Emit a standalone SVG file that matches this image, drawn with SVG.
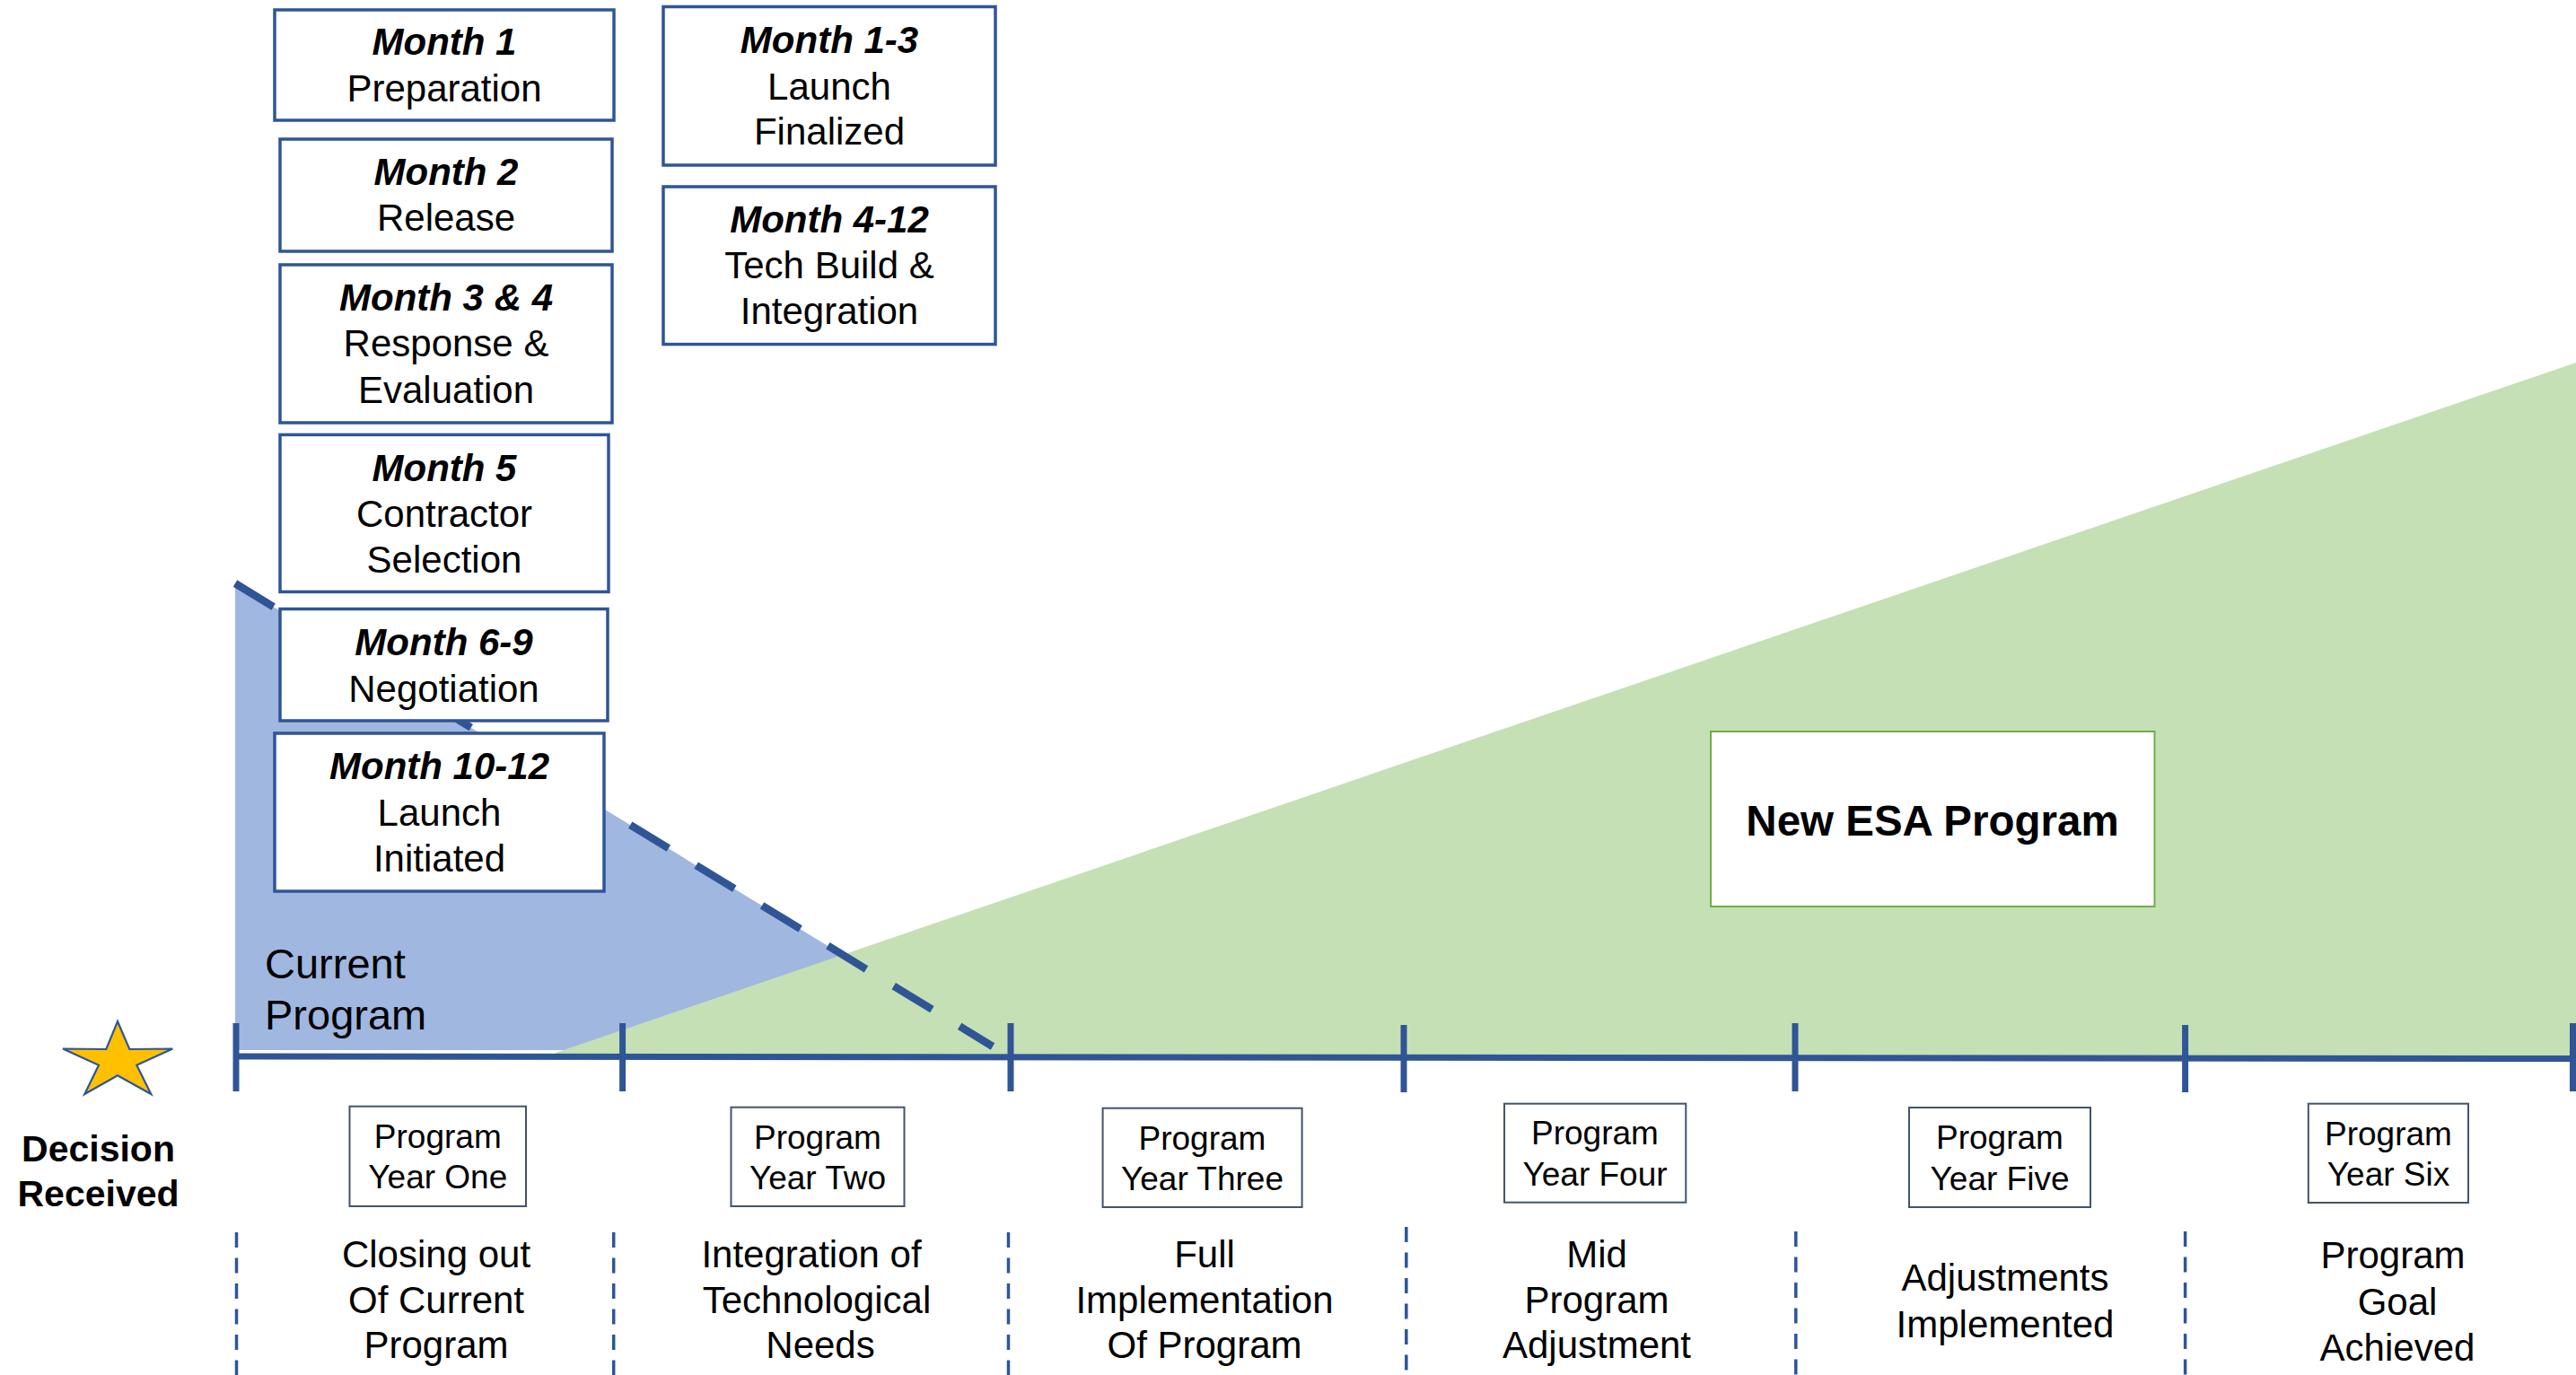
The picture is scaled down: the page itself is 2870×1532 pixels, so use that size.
<svg xmlns="http://www.w3.org/2000/svg" width="2870" height="1532" viewBox="0 0 2870 1532">
  <style>
    text { font-family: "Liberation Sans", Arial, sans-serif; fill: #000; }
    .mbox { fill: #fff; stroke: #2F5597; stroke-width: 3.5; }
    .ybox { fill: #fff; stroke: #44546A; stroke-width: 2; }
    .mt { font-size: 42px; text-anchor: middle; }
    .mh { font-size: 42px; font-weight: bold; font-style: italic; text-anchor: middle; }
    .yt { font-size: 37px; text-anchor: middle; }
    .bt { font-size: 42px; text-anchor: middle; }
    .axis { stroke: #2F5597; stroke-width: 7; fill: none; }
    .sep { stroke: #2F5597; stroke-width: 3.5; stroke-dasharray: 17 11.5; fill: none; }
  </style>

  <!-- area shapes -->
  <g id="areas">
    <polygon id="current-area" points="262,650 1112,1170 262,1170" fill="#A0B7E0"/>
    <polygon id="new-area" points="619,1173 2870,404 2870,1178 619,1178" fill="#C5E0B4"/>
  </g>

  <!-- timeline lines -->
  <g id="connectors">
    <line id="phase-out" x1="262" y1="650" x2="1106" y2="1166" stroke="#2F5597" stroke-width="8.5" stroke-dasharray="50 36"/>
    <line class="axis" x1="262" y1="1177" x2="2870" y2="1179.5"/>
    <line class="axis" x1="263" y1="1140" x2="263" y2="1216"/>
    <line class="axis" x1="693.6" y1="1140" x2="693.6" y2="1216"/>
    <line class="axis" x1="1126" y1="1140" x2="1126" y2="1216"/>
    <line class="axis" x1="1564" y1="1142" x2="1564" y2="1217"/>
    <line class="axis" x1="2000" y1="1140" x2="2000" y2="1216"/>
    <line class="axis" x1="2434.6" y1="1142" x2="2434.6" y2="1217"/>
    <line class="axis" x1="2866.5" y1="1140" x2="2866.5" y2="1216"/>
    <line class="sep" x1="263.5" y1="1373" x2="263.5" y2="1532"/>
    <line class="sep" x1="683.7" y1="1373" x2="683.7" y2="1532"/>
    <line class="sep" x1="1123.5" y1="1373" x2="1123.5" y2="1532"/>
    <line class="sep" x1="1566.8" y1="1367" x2="1566.8" y2="1532"/>
    <line class="sep" x1="2000.8" y1="1372" x2="2000.8" y2="1532"/>
    <line class="sep" x1="2434.6" y1="1372" x2="2434.6" y2="1532"/>
  </g>

  <!-- monthly steps -->
  <g id="month-1">
    <rect class="mbox" x="306" y="11" width="378" height="123"/>
    <text class="mh" x="495" y="61">Month 1</text>
    <text class="mt" x="495" y="112.7">Preparation</text>
  </g>
  <g id="month-2">
    <rect class="mbox" x="312" y="155" width="370" height="125"/>
    <text class="mh" x="497" y="206.4">Month 2</text>
    <text class="mt" x="497" y="257">Release</text>
  </g>
  <g id="month-3-4">
    <rect class="mbox" x="312" y="295" width="370" height="176"/>
    <text class="mh" x="497" y="346">Month 3 &amp; 4</text>
    <text class="mt" x="497" y="396.6">Response &amp;</text>
    <text class="mt" x="497" y="448.8">Evaluation</text>
  </g>
  <g id="month-5">
    <rect class="mbox" x="312" y="484.4" width="366" height="175"/>
    <text class="mh" x="495" y="535.8">Month 5</text>
    <text class="mt" x="495" y="587.2">Contractor</text>
    <text class="mt" x="495" y="638.3">Selection</text>
  </g>
  <g id="month-6-9">
    <rect class="mbox" x="312" y="678.5" width="365" height="124.5"/>
    <text class="mh" x="494.5" y="730">Month 6-9</text>
    <text class="mt" x="494.5" y="781.8">Negotiation</text>
  </g>
  <g id="month-10-12">
    <rect class="mbox" x="306" y="817" width="367" height="176"/>
    <text class="mh" x="489.5" y="868">Month 10-12</text>
    <text class="mt" x="489.5" y="919.5">Launch</text>
    <text class="mt" x="489.5" y="970.5">Initiated</text>
  </g>
  <g id="month-1-3">
    <rect class="mbox" x="739" y="7.5" width="370" height="176.5"/>
    <text class="mh" x="924" y="59.3">Month 1-3</text>
    <text class="mt" x="924" y="110.7">Launch</text>
    <text class="mt" x="924" y="161.3">Finalized</text>
  </g>
  <g id="month-4-12">
    <rect class="mbox" x="739" y="208" width="370" height="175.6"/>
    <text class="mh" x="924" y="259">Month 4-12</text>
    <text class="mt" x="924" y="310.4">Tech Build &amp;</text>
    <text class="mt" x="924" y="361">Integration</text>
  </g>

  <!-- area labels -->
  <g id="current-program">
    <text x="295" y="1090" font-size="47">Current</text>
    <text x="295" y="1147" font-size="47">Program</text>
  </g>
  <g id="new-esa-program">
    <rect x="1906" y="815" width="494.5" height="195" fill="#fff" stroke="#70AD47" stroke-width="2"/>
    <text x="2153" y="931" font-size="47.5" font-weight="bold" text-anchor="middle">New ESA Program</text>
  </g>

  <!-- decision marker -->
  <g id="decision">
    <polygon points="131,1138 144.3,1169 192.3,1168.5 152.3,1186.7 168.3,1219 131,1198.3 94.3,1219 110,1186.7 70,1168.5 118.3,1169" fill="#FFC000" stroke="#2F5597" stroke-width="2.2" stroke-linejoin="miter"/>
    <text x="109.5" y="1294" font-size="41" font-weight="bold" text-anchor="middle">Decision</text>
    <text x="109.5" y="1344" font-size="41" font-weight="bold" text-anchor="middle">Received</text>
  </g>

  <!-- program years -->
  <g id="year-1">
    <rect class="ybox" x="389.5" y="1232.7" width="196.5" height="111.3"/>
    <text class="yt" x="487.8" y="1278.5">Program</text>
    <text class="yt" x="487.8" y="1324">Year One</text>
    <text class="bt" x="486" y="1411.7">Closing out</text>
    <text class="bt" x="486" y="1463">Of Current</text>
    <text class="bt" x="486" y="1513">Program</text>
  </g>
  <g id="year-2">
    <rect class="ybox" x="814.5" y="1233.7" width="193" height="110.3"/>
    <text class="yt" x="911" y="1279.5">Program</text>
    <text class="yt" x="911" y="1325">Year Two</text>
    <text class="bt" x="904" y="1411.7">Integration of</text>
    <text class="bt" x="910" y="1463">Technological</text>
    <text class="bt" x="914" y="1513">Needs</text>
  </g>
  <g id="year-3">
    <rect class="ybox" x="1228.6" y="1234.7" width="222" height="110.3"/>
    <text class="yt" x="1339.5" y="1280.5">Program</text>
    <text class="yt" x="1339.5" y="1326">Year Three</text>
    <text class="bt" x="1342" y="1411.7">Full</text>
    <text class="bt" x="1342" y="1463">Implementation</text>
    <text class="bt" x="1342" y="1513">Of Program</text>
  </g>
  <g id="year-4">
    <rect class="ybox" x="1676" y="1229.7" width="202.3" height="110"/>
    <text class="yt" x="1777" y="1275">Program</text>
    <text class="yt" x="1777" y="1320.5">Year Four</text>
    <text class="bt" x="1779" y="1411.7">Mid</text>
    <text class="bt" x="1779" y="1463">Program</text>
    <text class="bt" x="1779" y="1513">Adjustment</text>
  </g>
  <g id="year-5">
    <rect class="ybox" x="2127" y="1234" width="202" height="111"/>
    <text class="yt" x="2228" y="1280">Program</text>
    <text class="yt" x="2228" y="1325.5">Year Five</text>
    <text class="bt" x="2234" y="1438">Adjustments</text>
    <text class="bt" x="2234" y="1490">Implemented</text>
  </g>
  <g id="year-6">
    <rect class="ybox" x="2571.8" y="1229.7" width="178.2" height="110.3"/>
    <text class="yt" x="2661" y="1275.5">Program</text>
    <text class="yt" x="2661" y="1321">Year Six</text>
    <text class="bt" x="2666" y="1413">Program</text>
    <text class="bt" x="2671" y="1465">Goal</text>
    <text class="bt" x="2671" y="1516">Achieved</text>
  </g>
</svg>
